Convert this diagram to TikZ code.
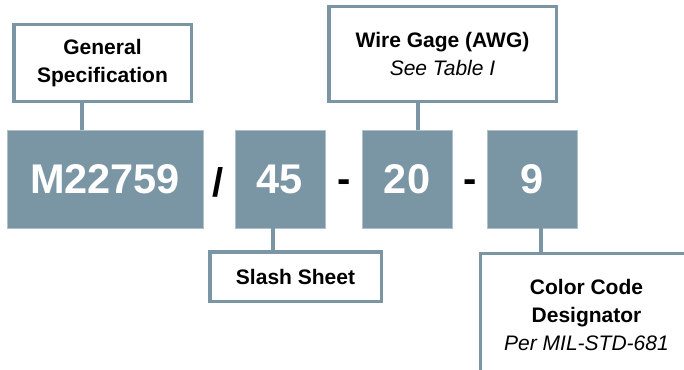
\documentclass[tikz,border=0pt]{standalone}
\usepackage{fontspec}
\setmainfont{Liberation Sans}
\definecolor{steel}{RGB}{122,150,164}

\begin{document}
\begin{tikzpicture}[x=1pt,y=-1pt,
  seg/.style={fill=steel,draw=steel!60!white,line width=0.6pt,text=white,
    font=\fontsize{41.5}{45}\selectfont\bfseries,minimum height=98pt,inner sep=0pt},
  tag/.style={draw=steel,line width=3.5pt,fill=white,align=center,
    font=\fontsize{21}{28}\selectfont\bfseries,inner sep=0pt},
  joiner/.style={font=\fontsize{40}{44}\selectfont\bfseries,anchor=base,inner sep=0pt},
  link/.style={draw=steel,line width=4.5pt}]
\clip (0,0) rectangle (684,369);
% part number pieces
\node[seg,minimum width=196pt] (mil) at (105,179) {M22759};
\node[seg,minimum width=90pt] (n45) at (280,179) {45};
\node[seg,minimum width=90pt] (n20) at (407,179) {20};
\node[seg,minimum width=90pt] (n9) at (532,179) {9};
\node[joiner] (slash) at (218,196) {/};
\node[joiner] (dash1) at (344,192) {-};
\node[joiner] (dash2) at (470,192) {-};
% callouts
\node[tag,minimum width=177.5pt,minimum height=76.5pt] (gen) at (102.5,63)
  {General\\Specification};
\node[tag,minimum width=227.5pt,minimum height=94.5pt] (awg) at (442.5,54)
  {Wire Gage (AWG)\\{\mdseries\itshape See Table I}};
\node[tag,minimum width=171.5pt,minimum height=49.5pt] (sheet) at (295.5,276.5)
  {Slash Sheet};
\node[tag,minimum width=212pt,minimum height=122pt,anchor=north west] (color)
  at (478.75,251.75) {Color Code\\Designator\\{\mdseries\itshape Per MIL-STD-681}};
% leaders
\draw[link] ([xshift=-20.5pt]gen.south) -- ([xshift=-20.5pt]gen.south |- mil.north);
\draw[link] ([xshift=-24.5pt]awg.south) -- ([xshift=-24.5pt]awg.south |- n20.north);
\draw[link] ([xshift=-7pt]n45.south) -- ([xshift=-7pt]n45.south |- sheet.north);
\draw[link] ([xshift=9pt]n9.south) -- ([xshift=9pt]n9.south |- color.north);
\end{tikzpicture}
\end{document}
